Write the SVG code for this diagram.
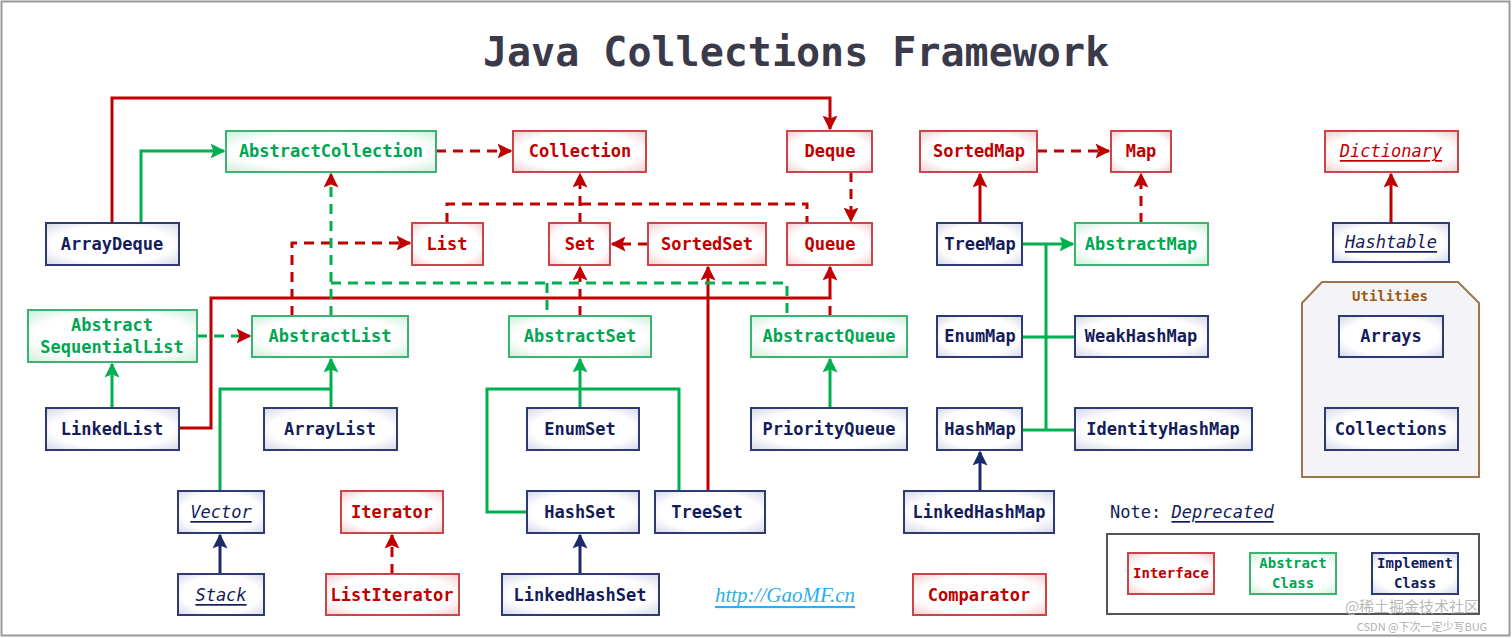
<svg xmlns="http://www.w3.org/2000/svg" width="1512" height="638" viewBox="0 0 1512 638">
<style>
text{font-family:"DejaVu Sans Mono","Liberation Mono",monospace;font-weight:bold;font-size:17px;text-anchor:middle;dominant-baseline:central}
.i rect{fill:url(#gi);stroke:#c8464a;stroke-width:2}
.i text{fill:#c00000}
.a rect{fill:url(#ga);stroke:#3cb371;stroke-width:2}
.a text{fill:#00a651}
.c rect{fill:url(#gc);stroke:#2f3a75;stroke-width:2}
.c text{fill:#141c5a}
.dep{font-style:italic;text-decoration:underline;font-weight:normal}
.r{stroke:#c00000;stroke-width:3;fill:none}
.g{stroke:#00b050;stroke-width:3;fill:none}
.n{stroke:#1a2a6a;stroke-width:3;fill:none}
.d{stroke-dasharray:10,7}
.ar{marker-end:url(#mr)}
.ag{marker-end:url(#mg)}
.an{marker-end:url(#mn)}
</style>
<defs>
<radialGradient id="gi" r="0.75"><stop offset="0.6" stop-color="#ffffff"/><stop offset="1" stop-color="#f2c4c6"/></radialGradient>
<radialGradient id="ga" r="0.75"><stop offset="0.6" stop-color="#ffffff"/><stop offset="1" stop-color="#c4ebd3"/></radialGradient>
<radialGradient id="gc" r="0.75"><stop offset="0.6" stop-color="#ffffff"/><stop offset="1" stop-color="#ccd0e4"/></radialGradient>
<marker id="mr" markerWidth="5" markerHeight="5" refX="4.5" refY="2.5" orient="auto" markerUnits="strokeWidth"><path d="M0,0L5,2.5L0,5L1,2.5z" fill="#c00000"/></marker>
<marker id="mg" markerWidth="5" markerHeight="5" refX="4.5" refY="2.5" orient="auto" markerUnits="strokeWidth"><path d="M0,0L5,2.5L0,5L1,2.5z" fill="#00b050"/></marker>
<marker id="mn" markerWidth="5" markerHeight="5" refX="4.5" refY="2.5" orient="auto" markerUnits="strokeWidth"><path d="M0,0L5,2.5L0,5L1,2.5z" fill="#1a2a6a"/></marker>
</defs>
<rect x="0" y="0" width="1512" height="638" fill="#ffffff"/>
<rect x="1.5" y="1.5" width="1508" height="634" fill="none" stroke="#9a9a9a" stroke-width="2"/>
<text x="796" y="52" style="font-size:40px;fill:#3a3a4a">Java Collections Framework</text>

<g id="connectors">
<path class="r ar" d="M112,223V98H830V129"/>
<path class="r ar" d="M179,428H211V298H830V267"/>
<path class="r ar" d="M708,491V267"/>
<path class="r ar" d="M980,223V174"/>
<path class="r ar" d="M1391,223V174"/>
<path class="r d ar" d="M436,151H511"/>
<path class="r d" d="M447,223V204H807V223"/>
<path class="r d ar" d="M580,223V174"/>
<path class="r d ar" d="M851,172V221"/>
<path class="r d ar" d="M648,244H612"/>
<path class="r d ar" d="M292,316V243H410"/>
<path class="r d ar" d="M580,316V267"/>
<path class="r d" d="M830,316V298"/>
<path class="r d ar" d="M1037,151H1109"/>
<path class="r d ar" d="M1141,223V174"/>
<path class="r d ar" d="M392,574V535"/>
<path class="g d ar" d="M197,336H250"/>
<path class="g d ar" d="M331,316V174"/>
<path class="g d" d="M331,283H787V316M547,283V316"/>
<path class="g ag" d="M141,223V151H224"/>
<path class="g ag" d="M331,408V359"/>
<path class="g" d="M220,491V389H331"/>
<path class="g ag" d="M112,408V364"/>
<path class="g ag" d="M580,408V359"/>
<path class="g" d="M527,512H487V389H679V491"/>
<path class="g ag" d="M830,408V359"/>
<path class="g ag" d="M1022,244H1073"/>
<path class="g" d="M1046,244V430M1022,337H1075M1022,430H1075"/>
<path class="n an" d="M220,574V535"/>
<path class="n an" d="M580,574V535"/>
<path class="n an" d="M980,491V452"/>
</g>

<g id="AbstractCollection" class="a"><rect x="226" y="131" width="210" height="41"/><text x="331" y="151">AbstractCollection</text></g>
<g id="Collection" class="i"><rect x="513" y="131" width="133" height="41"/><text x="580" y="151">Collection</text></g>
<g id="Deque" class="i"><rect x="787" y="131" width="85" height="41"/><text x="830" y="151">Deque</text></g>
<g id="SortedMap" class="i"><rect x="920" y="131" width="117" height="41"/><text x="979" y="151">SortedMap</text></g>
<g id="Map" class="i"><rect x="1111" y="131" width="60" height="41"/><text x="1141" y="151">Map</text></g>
<g id="Dictionary" class="i"><rect x="1325" y="131" width="133" height="41"/><text x="1391" y="151" class="dep">Dictionary</text></g>
<g id="ArrayDeque" class="c"><rect x="46" y="223" width="133" height="42"/><text x="112" y="244">ArrayDeque</text></g>
<g id="List" class="i"><rect x="412" y="223" width="71" height="42"/><text x="447" y="244">List</text></g>
<g id="Set" class="i"><rect x="549" y="223" width="61" height="42"/><text x="580" y="244">Set</text></g>
<g id="SortedSet" class="i"><rect x="648" y="223" width="118" height="42"/><text x="707" y="244">SortedSet</text></g>
<g id="Queue" class="i"><rect x="787" y="223" width="85" height="42"/><text x="830" y="244">Queue</text></g>
<g id="TreeMap" class="c"><rect x="937" y="223" width="85" height="42"/><text x="980" y="244">TreeMap</text></g>
<g id="AbstractMap" class="a"><rect x="1075" y="223" width="133" height="42"/><text x="1141" y="244">AbstractMap</text></g>
<g id="Hashtable" class="c"><rect x="1333" y="223" width="116" height="39"/><text x="1391" y="242" class="dep">Hashtable</text></g>
<g id="AbstractSequentialList" class="a"><rect x="28" y="310" width="169" height="52"/><text x="112" y="325">Abstract</text><text x="112" y="347">SequentialList</text></g>
<g id="AbstractList" class="a"><rect x="252" y="316" width="156" height="41"/><text x="330" y="336">AbstractList</text></g>
<g id="AbstractSet" class="a"><rect x="509" y="316" width="142" height="41"/><text x="580" y="336">AbstractSet</text></g>
<g id="AbstractQueue" class="a"><rect x="751" y="316" width="156" height="41"/><text x="829" y="336">AbstractQueue</text></g>
<g id="EnumMap" class="c"><rect x="937" y="316" width="85" height="41"/><text x="980" y="336">EnumMap</text></g>
<g id="WeakHashMap" class="c"><rect x="1075" y="316" width="133" height="41"/><text x="1141" y="336">WeakHashMap</text></g>
<g id="LinkedList" class="c"><rect x="46" y="408" width="133" height="42"/><text x="112" y="429">LinkedList</text></g>
<g id="ArrayList" class="c"><rect x="264" y="408" width="133" height="42"/><text x="330" y="429">ArrayList</text></g>
<g id="EnumSet" class="c"><rect x="527" y="408" width="112" height="42"/><text x="580" y="429">EnumSet</text></g>
<g id="PriorityQueue" class="c"><rect x="751" y="408" width="156" height="42"/><text x="829" y="429">PriorityQueue</text></g>
<g id="HashMap" class="c"><rect x="937" y="408" width="85" height="42"/><text x="980" y="429">HashMap</text></g>
<g id="IdentityHashMap" class="c"><rect x="1075" y="408" width="177" height="42"/><text x="1163" y="429">IdentityHashMap</text></g>
<g id="Vector" class="c"><rect x="178" y="491" width="86" height="42"/><text x="221" y="512" class="dep">Vector</text></g>
<g id="Iterator" class="i"><rect x="341" y="491" width="102" height="42"/><text x="392" y="512">Iterator</text></g>
<g id="HashSet" class="c"><rect x="527" y="491" width="112" height="42"/><text x="580" y="512">HashSet</text></g>
<g id="TreeSet" class="c"><rect x="655" y="491" width="110" height="42"/><text x="707" y="512">TreeSet</text></g>
<g id="LinkedHashMap" class="c"><rect x="904" y="491" width="150" height="42"/><text x="979" y="512">LinkedHashMap</text></g>
<g id="Stack" class="c"><rect x="178" y="574" width="86" height="41"/><text x="221" y="595" class="dep">Stack</text></g>
<g id="ListIterator" class="i"><rect x="326" y="574" width="133" height="41"/><text x="392" y="595">ListIterator</text></g>
<g id="LinkedHashSet" class="c"><rect x="502" y="574" width="157" height="41"/><text x="580" y="595">LinkedHashSet</text></g>
<g id="Comparator" class="i"><rect x="913" y="574" width="133" height="41"/><text x="979" y="595">Comparator</text></g>
<text x="785" y="595" style="font-family:'Liberation Serif',serif;font-style:italic;font-weight:normal;font-size:21px;fill:#2eaee8;text-decoration:underline">http://GaoMF.cn</text>

<g id="Utilities">
<path d="M1322,282H1458L1479,303V477H1302V303Z" fill="#f4f4f8" stroke="#a0754a" stroke-width="2"/>
<text x="1390" y="296" style="font-size:14px;fill:#9a5a14">Utilities</text>
<g id="Arrays" class="c"><rect x="1339" y="316" width="104" height="41"/><text x="1391" y="336">Arrays</text></g>
<g id="Collections" class="c"><rect x="1325" y="408" width="133" height="42"/><text x="1391" y="429">Collections</text></g>
</g>
<text x="1110" y="512" style="text-anchor:start;font-weight:normal;fill:#141c5a">Note: <tspan class="dep">Deprecated</tspan></text>
<g id="legend">
<rect x="1107" y="534" width="372" height="80" fill="#ffffff" stroke="#555" stroke-width="2"/>
<g class="i"><rect x="1128" y="553" width="86" height="41"/><text x="1171" y="573" style="font-size:14px">Interface</text></g>
<g class="a"><rect x="1250" y="553" width="86" height="41"/><text x="1293" y="563" style="font-size:14px">Abstract</text><text x="1293" y="583" style="font-size:14px">Class</text></g>
<g class="c"><rect x="1372" y="553" width="86" height="41"/><text x="1415" y="563" style="font-size:14px">Implement</text><text x="1415" y="583" style="font-size:14px">Class</text></g>
</g>
<text x="1412" y="605" style="font-family:'Noto Sans CJK SC',sans-serif;font-weight:normal;font-size:15px;fill:#b8b8b8">@稀土掘金技术社区</text>
<text x="1422" y="626" style="font-family:'Noto Sans CJK SC',sans-serif;font-weight:normal;font-size:11px;fill:#b0b0b0">CSDN @下次一定少写BUG</text>
</svg>
